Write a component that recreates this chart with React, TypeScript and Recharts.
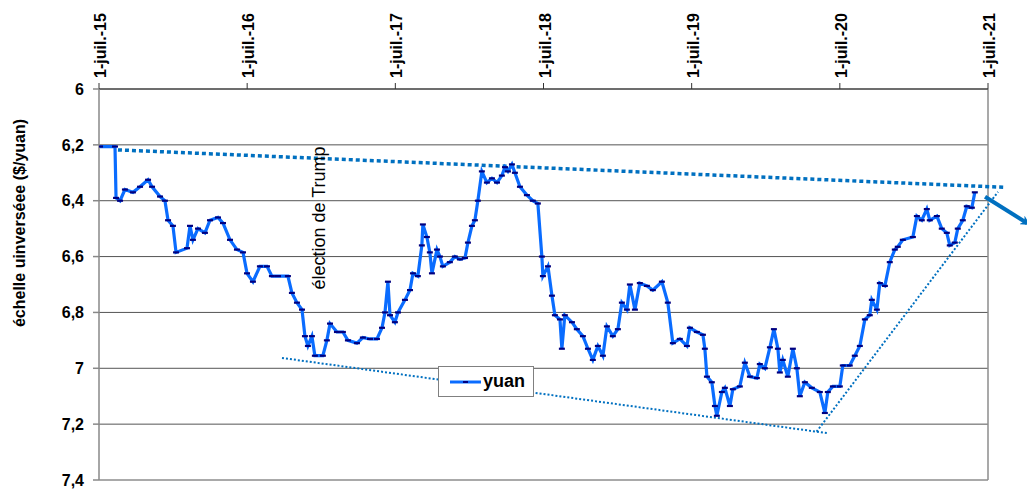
import React from 'react';
import { LineChart, Line, XAxis, YAxis, CartesianGrid, ReferenceLine, ReferenceDot } from 'recharts';

// decimal years (1-juil.-15 = 2015.5)
const yuanDates = [
  2015.507, 2015.608, 2015.615, 2015.642, 2015.675, 2015.729, 2015.777, 2015.831, 2015.858, 2015.912,
  2015.945, 2015.966, 2015.999, 2016.020, 2016.094, 2016.114, 2016.134, 2016.168, 2016.215, 2016.249,
  2016.303, 2016.337, 2016.384, 2016.431, 2016.472, 2016.499, 2016.539, 2016.586, 2016.634, 2016.667,
  2016.708, 2016.775, 2016.802, 2016.836, 2016.870, 2016.890, 2016.910, 2016.937, 2016.957, 2017.011,
  2017.038, 2017.059, 2017.106, 2017.146, 2017.180, 2017.241, 2017.281, 2017.329, 2017.376, 2017.410,
  2017.430, 2017.450, 2017.464, 2017.497, 2017.518, 2017.565, 2017.599, 2017.619, 2017.652, 2017.679,
  2017.686, 2017.713, 2017.733, 2017.747, 2017.781, 2017.801, 2017.821, 2017.868, 2017.902, 2017.936,
  2017.970, 2017.990, 2018.017, 2018.037, 2018.057, 2018.084, 2018.118, 2018.152, 2018.186, 2018.219,
  2018.240, 2018.260, 2018.287, 2018.307, 2018.341, 2018.388, 2018.428, 2018.462, 2018.489, 2018.496,
  2018.530, 2018.557, 2018.577, 2018.611, 2018.624, 2018.644, 2018.692, 2018.725, 2018.766, 2018.800,
  2018.833, 2018.867, 2018.901, 2018.928, 2018.968, 2019.002, 2019.029, 2019.063, 2019.083, 2019.117,
  2019.150, 2019.198, 2019.238, 2019.299, 2019.339, 2019.373, 2019.420, 2019.468, 2019.488, 2019.535,
  2019.576, 2019.589, 2019.603, 2019.636, 2019.657, 2019.670, 2019.704, 2019.724, 2019.758, 2019.778,
  2019.825, 2019.859, 2019.893, 2019.940, 2019.960, 2019.994, 2020.028, 2020.055, 2020.082, 2020.095,
  2020.115, 2020.149, 2020.183, 2020.210, 2020.230, 2020.264, 2020.311, 2020.365, 2020.399, 2020.419,
  2020.453, 2020.500, 2020.520, 2020.567, 2020.601, 2020.635, 2020.669, 2020.702, 2020.716, 2020.750,
  2020.770, 2020.804, 2020.837, 2020.871, 2020.891, 2020.925, 2020.993, 2021.020, 2021.053, 2021.087,
  2021.107, 2021.155, 2021.188, 2021.222, 2021.242, 2021.276, 2021.296, 2021.330, 2021.357, 2021.391,
  2021.411,
];

// CNY per USD
const yuanValues = [
  6.206, 6.206, 6.39, 6.40, 6.36, 6.37, 6.35, 6.325, 6.35, 6.385,
  6.40, 6.47, 6.49, 6.585, 6.57, 6.49, 6.54, 6.50, 6.515, 6.47,
  6.46, 6.48, 6.54, 6.575, 6.585, 6.66, 6.69, 6.635, 6.635, 6.67,
  6.67, 6.67, 6.73, 6.765, 6.79, 6.885, 6.92, 6.885, 6.955, 6.955,
  6.90, 6.84, 6.87, 6.87, 6.90, 6.91, 6.89, 6.895, 6.895, 6.855,
  6.80, 6.69, 6.81, 6.835, 6.80, 6.755, 6.72, 6.66, 6.67, 6.56,
  6.485, 6.53, 6.585, 6.66, 6.575, 6.60, 6.635, 6.62, 6.60, 6.61,
  6.605, 6.55, 6.49, 6.47, 6.40, 6.295, 6.335, 6.32, 6.335, 6.31,
  6.28, 6.295, 6.27, 6.30, 6.35, 6.38, 6.40, 6.41, 6.60, 6.67,
  6.635, 6.74, 6.81, 6.825, 6.93, 6.81, 6.835, 6.86, 6.885, 6.93,
  6.97, 6.92, 6.955, 6.85, 6.885, 6.86, 6.765, 6.79, 6.70, 6.79,
  6.695, 6.705, 6.72, 6.69, 6.765, 6.91, 6.895, 6.92, 6.855, 6.87,
  6.88, 6.93, 7.03, 7.05, 7.135, 7.17, 7.085, 7.07, 7.135, 7.075,
  7.065, 6.98, 7.03, 7.035, 6.985, 7.00, 6.925, 6.86, 6.93, 7.015,
  6.97, 7.03, 6.93, 7.00, 7.10, 7.05, 7.07, 7.085, 7.16, 7.085,
  7.065, 7.065, 6.99, 6.99, 6.955, 6.92, 6.825, 6.81, 6.755, 6.79,
  6.695, 6.705, 6.62, 6.575, 6.565, 6.54, 6.53, 6.455, 6.47, 6.43,
  6.47, 6.455, 6.50, 6.515, 6.56, 6.55, 6.50, 6.47, 6.42, 6.425,
  6.37,
];

const xTicks = [2015.5, 2016.5, 2017.5, 2018.5, 2019.5, 2020.5, 2021.5];
const xTickLabels = ['1-juil.-15', '1-juil.-16', '1-juil.-17', '1-juil.-18', '1-juil.-19', '1-juil.-20', '1-juil.-21'];
const yTicks = [6, 6.2, 6.4, 6.6, 6.8, 7, 7.2, 7.4];

// trend lines [start, end]
const topTrend = [{ x: 2015.628, y: 6.218 }, { x: 2021.613, y: 6.352 }];
const bottomTrend = [{ x: 2016.735, y: 6.963 }, { x: 2020.412, y: 7.232 }];
const riseTrend = [{ x: 2020.343, y: 7.227 }, { x: 2021.568, y: 6.368 }];
const breakArrow = [{ x: 2021.48, y: 6.386 }, { x: 2021.763, y: 6.48 }];

const electionLabel = { x: 2016.985, y: 6.462, text: 'élection de Trump' };

const data = yuanDates.map((d, i) => ({ date: d, yuan: yuanValues[i] }));

const FONT = '"Liberation Sans", Arial, sans-serif';
const TREND = '#0070C0';

const XTick = (props: any) => {
  const { x, y, payload } = props;
  const i = xTicks.indexOf(payload.value);
  return (
    <text
      x={x + 1.5}
      y={y - 3}
      transform={`rotate(-90 ${x + 1.5} ${y - 3})`}
      textAnchor="start"
      dominantBaseline="central"
      fontFamily={FONT}
      fontWeight="bold"
      fontSize={16}
      fill="#000"
    >
      {i >= 0 ? xTickLabels[i] : ''}
    </text>
  );
};

const DashDot = (props: any) => {
  const { cx, cy, index } = props;
  if (cx == null || cy == null) return <g key={index} />;
  return <line key={index} x1={cx - 3} x2={cx + 3} y1={cy} y2={cy} stroke="#000080" strokeWidth={2.2} />;
};

const ArrowShape = (props: any) => {
  const { x1, y1, x2, y2 } = props;
  return (
    <g>
      <defs>
        <marker id="arrowHead" viewBox="0 0 10 10" refX="6" refY="5" markerWidth="10" markerHeight="10" markerUnits="userSpaceOnUse" orient="auto">
          <path d="M0,0 L10,5 L0,10 L3,5 z" fill={TREND} />
        </marker>
      </defs>
      <line x1={x1} y1={y1} x2={x2} y2={y2} stroke={TREND} strokeWidth={4} markerEnd="url(#arrowHead)" />
    </g>
  );
};

const ElectionText = (props: any) => {
  const { cx, cy } = props;
  return (
    <text
      x={cx}
      y={cy}
      transform={`rotate(-90 ${cx} ${cy})`}
      textAnchor="middle"
      dominantBaseline="central"
      style={{ fontFamily: FONT }}
      fontSize={18}
      fill="#000"
    >
      {electionLabel.text}
    </text>
  );
};

export default function App() {
  return (
    <div style={{ position: 'absolute', left: 0, top: 0, width: 1027, height: 489, background: '#fff', fontFamily: FONT }}>
      <LineChart width={1027} height={489} data={data} margin={{ top: 0, right: 39, bottom: 9, left: 0 }}>
        <CartesianGrid vertical={false} stroke="#555" />
        <XAxis
          dataKey="date"
          type="number"
          orientation="top"
          domain={[2015.5, 2021.5]}
          ticks={xTicks}
          height={89}
          tickSize={6}
          tick={<XTick />}
          stroke="#333"
          allowDataOverflow
        />
        <YAxis
          type="number"
          reversed
          domain={[6, 7.4]}
          ticks={yTicks}
          width={99}
          tickSize={6}
          tickMargin={9}
          stroke="#888"
          strokeWidth={1.5}
          tickFormatter={(v: number) => String(v).replace('.', ',')}
          tick={{ fill: '#000', fontSize: 16, fontWeight: 'bold', fontFamily: FONT }}
          label={{
            content: () => (
              <text
                x={19}
                y={223}
                transform="rotate(-90 19 223)"
                textAnchor="middle"
                dominantBaseline="central"
                fontFamily={FONT}
                fontWeight="bold"
                fontSize={16}
                fill="#000"
              >
                échelle uinverséee ($/yuan)
              </text>
            ),
          }}
        />
        <ReferenceLine x={2021.5} stroke="#8c8c8c" strokeWidth={1.5} />
        <ReferenceLine segment={topTrend} ifOverflow="visible" stroke={TREND} strokeWidth={3.5} strokeDasharray="4 3" />
        <ReferenceLine segment={bottomTrend} ifOverflow="visible" stroke={TREND} strokeWidth={2} strokeDasharray="2 2" />
        <ReferenceLine segment={riseTrend} ifOverflow="visible" stroke={TREND} strokeWidth={2} strokeDasharray="2 2" />
        <ReferenceLine segment={breakArrow} ifOverflow="visible" shape={(p: any) => <ArrowShape {...p} />} />
        <ReferenceDot x={electionLabel.x} y={electionLabel.y} r={0} shape={(p: any) => <ElectionText {...p} />} />
        <Line
          type="linear"
          dataKey="yuan"
          stroke="#0a6cff"
          strokeWidth={3.2}
          dot={(p: any) => <DashDot {...p} />}
          activeDot={false}
          isAnimationActive={false}
        />
      </LineChart>
      <div
        style={{
          position: 'absolute',
          left: 438,
          top: 366,
          width: 94,
          height: 29,
          border: '1px solid #808080',
          background: '#fff',
          display: 'flex',
          alignItems: 'center',
        }}
      >
        <svg width={44} height={29} style={{ display: 'block' }}>
          <line x1={11} x2={42} y1={15} y2={15} stroke="#0a6cff" strokeWidth={3} />
          <line x1={24} x2={29} y1={15} y2={15} stroke="#000080" strokeWidth={2} />
        </svg>
        <span style={{ fontFamily: FONT, fontWeight: 'bold', fontSize: 18, color: '#000', lineHeight: '29px' }}>yuan</span>
      </div>
    </div>
  );
}
